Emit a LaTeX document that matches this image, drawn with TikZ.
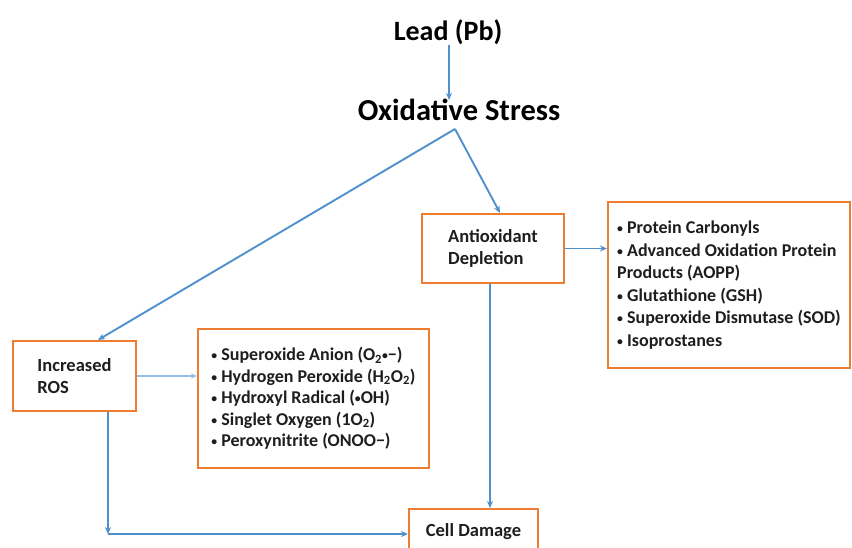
\documentclass[tikz,border=0pt]{standalone}
\usepackage{fontspec}
\usepackage{graphicx}
\setmainfont{Carlito}
\usetikzlibrary{arrows.meta,calc}
\definecolor{boxor}{RGB}{237,125,49}
\definecolor{arrblue}{RGB}{80,145,205}
\definecolor{arrlight}{RGB}{150,190,230}
\definecolor{txt}{RGB}{30,30,30}
\newcommand{\bul}{\raisebox{0.12ex}{\scalebox{0.65}{•}}}
\tikzset{
  box/.style={draw=boxor,line width=2.1pt,fill=white,align=left,font=\bfseries\fontsize{18.5}{22}\selectfont,text=txt,inner sep=0pt},
  title/.style={font=\bfseries,text=black,inner sep=0pt},
  conn/.style={draw=arrblue,line width=1.9pt,-{Stealth[length=7pt,width=6pt]}},
  connlight/.style={draw=arrlight,line width=1.5pt,-{Stealth[length=6pt,width=5pt]}}
}
\begin{document}
\begin{tikzpicture}[x=1pt,y=-1pt]
\useasboundingbox (0,0) rectangle (852,548);
\clip (0,0) rectangle (852,548);
\fill[white] (0,0) rectangle (852,548);
\node[title,font=\bfseries\fontsize{28}{32}\selectfont] (lead) at (448,32) {Lead (Pb)};
\node[title,font=\bfseries\fontsize{30.5}{34}\selectfont] (ox) at (459,110) {Oxidative Stress};
\coordinate (apex) at (455,129);
\node[box,minimum width=123pt,minimum height=70pt] (ros) at (74.5,376) {Increased\\ROS};
\node[box,minimum width=142pt,minimum height=69pt] (anti) at (493,248.5) {Antioxidant\\Depletion};
\node[box,minimum width=231pt,minimum height=139pt,font=\bfseries\fontsize{18}{21.5}\selectfont] (ros list) at (313.5,398.5) {%
\bul\ Superoxide Anion (O\textsubscript{2}\bul−)\\
\bul\ Hydrogen Peroxide (H\textsubscript{2}O\textsubscript{2})\\
\bul\ Hydroxyl Radical (\bul OH)\\
\bul\ Singlet Oxygen (1O\textsubscript{2})\\
\bul\ Peroxynitrite (ONOO−)};
\node[box,minimum width=242pt,minimum height=166pt,font=\bfseries\fontsize{18}{22.5}\selectfont] (anti list) at (729,285) {%
\bul\ Protein Carbonyls\\
\bul\ Advanced Oxidation Protein\\
Products (AOPP)\\
\bul\ Glutathione (GSH)\\
\bul\ Superoxide Dismutase (SOD)\\
\bul\ Isoprostanes};
\node[box,minimum width=129pt,minimum height=50pt,anchor=north] (cell) at (473.5,508) {};
\node[title,font=\bfseries\fontsize{18.5}{22}\selectfont,text=txt] (celltext) at (473.5,532) {Cell Damage};
\draw[conn] (lead.south -| 449,0) -- ([yshift=-1pt]ox.north -| 449,0);
\draw[conn] (apex) -- ([xshift=23.5pt]ros.north);
\draw[conn] (apex) -- ([xshift=7pt]anti.north);
\draw[conn] (anti.east) -- (anti.east -| anti list.west);
\draw[connlight] (ros.east) -- (ros.east -| ros list.west);
\draw[conn] ([xshift=-3pt]anti.south) -- ([xshift=-3pt]anti.south |- cell.north);
\coordinate (corner) at ([xshift=33.5pt]ros.south |- cell.west);
\draw[conn] ([xshift=33.5pt]ros.south) -- (corner);
\draw[conn] (corner) -- (cell.west);
\end{tikzpicture}
\end{document}
